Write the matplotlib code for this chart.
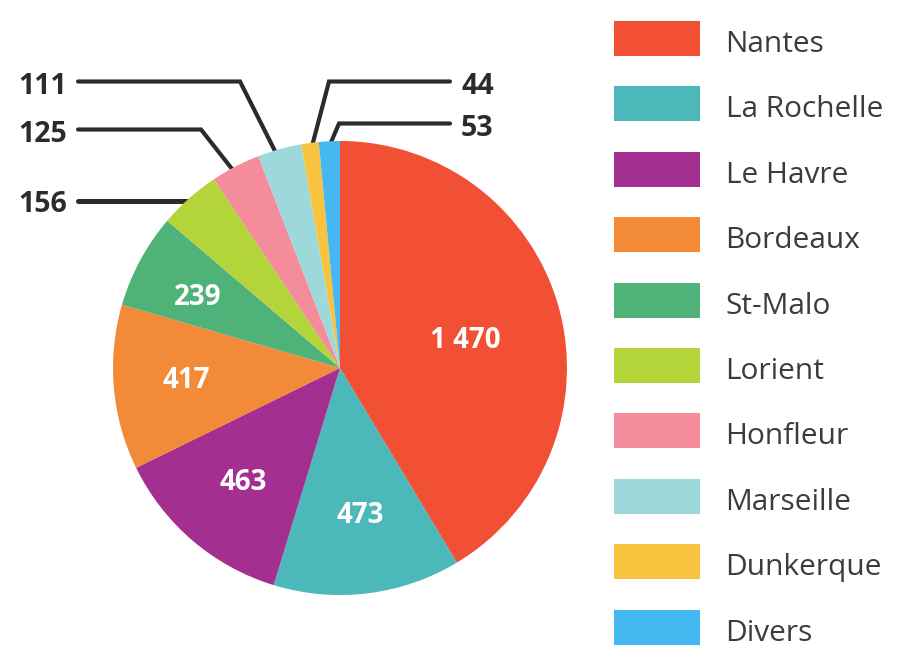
import matplotlib
matplotlib.use("Agg")
import matplotlib.pyplot as plt
from matplotlib.patches import Rectangle

CITIES = ["Nantes", "La Rochelle", "Le Havre", "Bordeaux", "St-Malo", "Lorient",
          "Honfleur", "Marseille", "Dunkerque", "Divers"]
VALUES = [1470, 473, 463, 417, 239, 156, 125, 111, 44, 53]
VALUE_LABELS = ["1 470", "473", "463", "417", "239", "156", "125", "111", "44", "53"]
COLORS = ["#F15035", "#4CB8BA", "#A32F90", "#F38A38", "#4FB279", "#B3D53A",
          "#F48C9B", "#9DD9DB", "#F8C440", "#45B8F2"]

W, H = 905, 666
plt.rcParams["font.family"] = ["Open Sans", "DejaVu Sans"]
DARK = "#2b2b2b"

fig = plt.figure(figsize=(W / 100, H / 100), dpi=100)
# one full-figure axes in pixel coordinates, y going down
ax = fig.add_axes([0, 0, 1, 1])
ax.set_xlim(0, W)
ax.set_ylim(H, 0)
ax.axis("off")

# leader lines: (xs, ys, label x, label baseline, align, width)
leaders = {
    5: ([78, 195], [200.5, 200.5], 67, 212.5, "right", 3.6),
    6: ([78, 201, 236], [129.5, 129.5, 174], 67, 141.5, "right", 3),
    7: ([78, 240, 278], [81.5, 81.5, 157], 67, 93.5, "right", 3),
    8: ([450, 329, 311], [81.5, 81.5, 150], 461, 93.5, "left", 3),
    9: ([450, 339, 329], [123.5, 123.5, 147], 461, 135.5, "left", 3),
}
for i, (xs, ys, tx, ty, ha, lw) in leaders.items():
    ax.plot(xs, ys, color=DARK, lw=lw, solid_capstyle="round", solid_joinstyle="miter", zorder=1)
    ax.text(tx, ty, VALUE_LABELS[i], color=DARK, fontsize=20.5, fontweight="bold",
            ha=ha, va="baseline")

cx, cy, r = 340, 368, 227
# y axis is inverted, so positive angles run clockwise on screen
wedges, _ = ax.pie(VALUES, colors=COLORS, startangle=-90, center=(cx, cy), radius=r,
                   frame=False, wedgeprops={"linewidth": 0})
for w in wedges:
    w.set_zorder(2)
ax.set_xlim(0, W)
ax.set_ylim(H, 0)
ax.set_aspect("equal")

inside = {0: (465, 348), 1: (360, 523), 2: (243, 490), 3: (186, 388), 4: (198, 305)}
for i, (x, y) in inside.items():
    ax.text(x, y, VALUE_LABELS[i], color="white", fontsize=20, fontweight="bold",
            ha="center", va="baseline", zorder=3)

for i, city in enumerate(CITIES):
    y = 21 + i * 65.4
    ax.add_patch(Rectangle((614, y), 86, 35, facecolor=COLORS[i], edgecolor="none"))
    ax.text(725.5, y + 31, city, color="#3c3c3c", fontsize=21.5, ha="left", va="baseline")

fig.savefig("out.png", dpi=100)
